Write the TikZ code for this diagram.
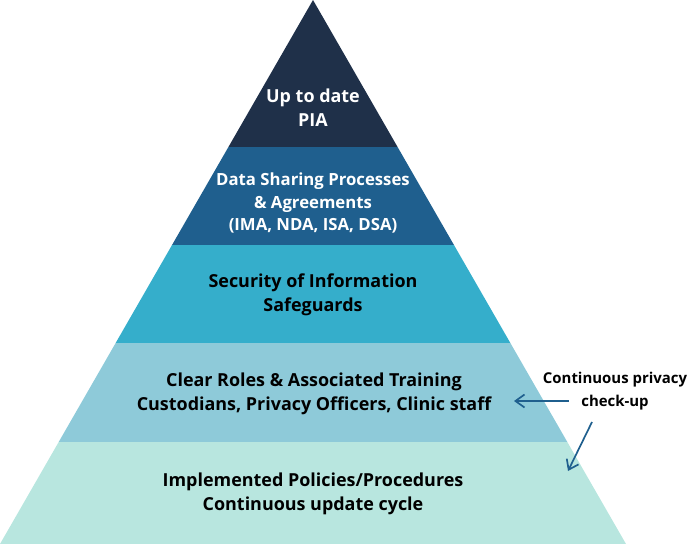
\documentclass[tikz,border=0pt]{standalone}
\usepackage{fontspec}
\setmainfont{Open Sans}
\usepackage{tikz}
\usetikzlibrary{arrows.meta,positioning}
\definecolor{tier1}{HTML}{1F3049}
\definecolor{tier2}{HTML}{1F5F8E}
\definecolor{tier3}{HTML}{35AECB}
\definecolor{tier4}{HTML}{8ECAD9}
\definecolor{tier5}{HTML}{B8E6DF}
\definecolor{arrowblue}{HTML}{1F5F8E}
\tikzset{
  tiertext/.style ={align=center, font=\fontsize{18}{24}\selectfont\bfseries,
                    inner sep=0pt},
  lighttext/.style={tiertext, text=white},
  darktext/.style ={tiertext, text=black},
  note/.style     ={align=center, font=\fontsize{15}{23}\selectfont\bfseries,
                    text=black, inner sep=1pt},
  arr/.style      ={-{Straight Barb[length=3.2mm,width=4.6mm]}, line width=1.7pt,
                    color=arrowblue},
}
\begin{document}
\begin{tikzpicture}[x=1bp,y=-1bp]
  \useasboundingbox (0,0) rectangle (690,544);

  % pyramid, cut into five tiers
  \begin{scope}
    \clip (313,0) -- (0,544) -- (626,544) -- cycle;
    \fill[tier1] (0,0)   rectangle (690,147);
    \fill[tier2] (0,147) rectangle (690,245);
    \fill[tier3] (0,245) rectangle (690,343);
    \fill[tier4] (0,343) rectangle (690,442);
    \fill[tier5] (0,442) rectangle (690,544);
  \end{scope}

  \node[lighttext] (pia) at (313,108) {Up to date\\PIA};
  \node[lighttext, font=\fontsize{16.8}{23}\selectfont\bfseries] (share) at (313,203)
    {Data Sharing Processes\\\& Agreements\\(IMA, NDA, ISA, DSA)};
  \node[darktext] (secure) at (313,295) {Security of Information\\Safeguards};
  \node[darktext] (roles) at (314,394)
    {Clear Roles \& Associated Training\\Custodians, Privacy Officers, Clinic staff};
  \node[darktext] (policy) at (313,494)
    {Implemented Policies/Procedures\\Continuous update cycle};

  \node[note] (checkup) at (615,391) {Continuous privacy\\check-up};
  \coordinate (toroles) at (514,401);
  \coordinate (topolicy) at (568,471);

  \draw[arr] (checkup.west |- toroles) ++(27,0) -- (toroles);
  \draw[arr] (592,422) -- (topolicy);
\end{tikzpicture}
\end{document}
